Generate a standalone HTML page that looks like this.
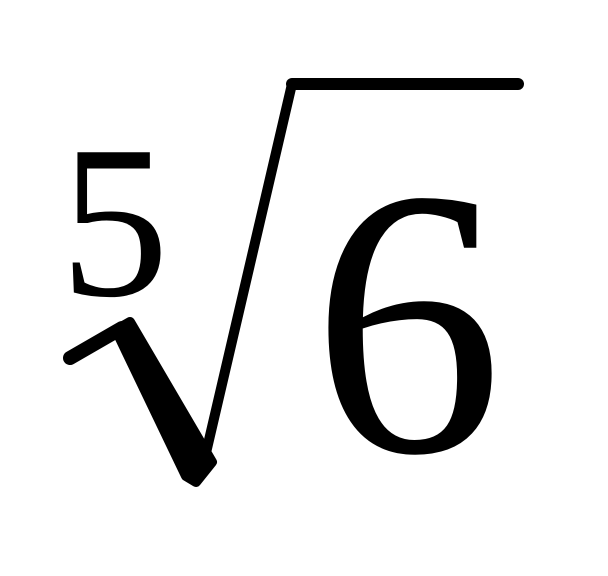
<!DOCTYPE html>
<html><head><meta charset="utf-8"><style>
html,body{margin:0;padding:0;background:#fff;width:608px;height:576px;overflow:hidden}
</style></head><body>
<svg width="608" height="576" viewBox="0 0 608 576">
  <g stroke="#000" stroke-linecap="round" stroke-linejoin="round" fill="#000">
    <path d="M70 358 L122 328" stroke-width="14" fill="none"/>
    <polygon points="116,330 130,322 212,462 196,482 186,476" stroke-width="10"/>
    <path d="M202 470 L292 84" stroke-width="10" fill="none"/>
    <path d="M292 84 L518 84" stroke-width="12" fill="none"/>
  </g>
  <text x="60" y="295" font-family="Liberation Serif, serif" font-size="218">5</text>
  <text x="312" y="451" font-family="Liberation Serif, serif" font-size="382">6</text>
</svg>
</body></html>
